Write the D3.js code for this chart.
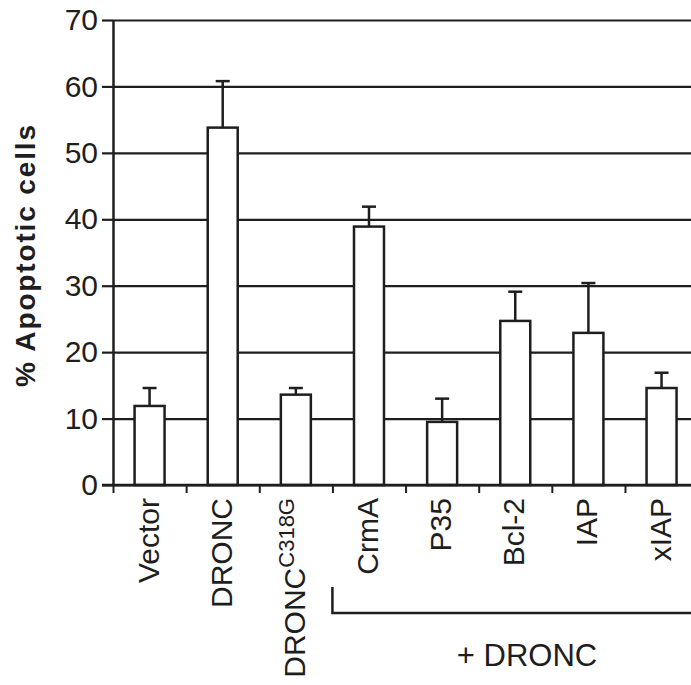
<!DOCTYPE html>
<html>
<head>
    <meta charset="utf-8">
    <title>% Apoptotic cells</title>
    <script src="https://cdn.jsdelivr.net/npm/d3@7/dist/d3.min.js"></script>
    <style>
        body { margin: 0; background: #fff; }
        text { font-family: "Liberation Sans", Arial, Helvetica, sans-serif; fill: #1e1e1e; }
    </style>
</head>
<body>
<script type="text/javascript">
    // data
    var categories = ["Vector", "DRONC", "DRONC_C318G", "CrmA", "P35", "Bcl-2", "IAP", "xIAP"];
    var values = [11.9, 53.8, 13.6, 38.9, 9.5, 24.7, 22.9, 14.6];
    var errors = [2.7, 7.0, 1.0, 3.0, 3.5, 4.4, 7.5, 2.3];
    var yTicks = [0, 10, 20, 30, 40, 50, 60, 70];

    var width = 691, height = 685,
        axisX = 113, yTop = 20, yBottom = 485,
        step = 73.14,
        ink = "#1e1e1e";

    var svg = d3.select("body").append("svg")
        .attr("width", width)
        .attr("height", height);

    var y = d3.scaleLinear().domain([0, 70]).range([yBottom, yTop]);

    var x = d3.scaleBand()
        .domain(categories)
        .range([axisX, axisX + step * categories.length])
        .paddingInner(0.59)
        .paddingOuter(0.295);

    // y axis with stubs, then gridlines across
    var yAxis = d3.axisLeft(y).tickValues(yTicks).tickSize(11).tickSizeOuter(0).tickPadding(4);
    var yg = svg.append("g")
        .attr("class", "y-axis")
        .attr("transform", "translate(" + axisX + ",0)")
        .call(yAxis);
    yg.select(".domain").attr("stroke", ink).attr("stroke-width", 2.5);
    yg.selectAll(".tick line").attr("stroke", ink).attr("stroke-width", 2.2);
    yg.selectAll(".tick text").attr("font-size", 30).attr("fill", ink).style("font-family", "'Liberation Sans', Arial, sans-serif");
    yg.selectAll("g.tick").append("line").classed("grid-line", true)
        .attr("x1", 0).attr("y1", 0)
        .attr("x2", width - axisX).attr("y2", 0)
        .attr("stroke", ink).attr("stroke-width", 2.2);

    // x axis ticks sit on the category boundaries
    var bounds = d3.scaleLinear().domain([0, categories.length]).range(x.range());
    var xAxis = d3.axisBottom(bounds).tickValues(d3.range(categories.length)).tickFormat("").tickSize(8).tickSizeOuter(0);
    var xg = svg.append("g")
        .attr("class", "x-axis")
        .attr("transform", "translate(0," + yBottom + ")")
        .call(xAxis);
    xg.select(".domain").remove();
    xg.selectAll(".tick line").attr("stroke", ink).attr("stroke-width", 2);

    // bars
    var bars = svg.append("g").selectAll("g.bar")
        .data(categories)
        .enter().append("g").attr("class", "bar");

    bars.append("line")
        .attr("x1", function(d) { return x(d) + x.bandwidth() / 2; })
        .attr("x2", function(d) { return x(d) + x.bandwidth() / 2; })
        .attr("y1", function(d, i) { return y(values[i]); })
        .attr("y2", function(d, i) { return y(values[i] + errors[i]); })
        .attr("stroke", ink).attr("stroke-width", 2.5);
    bars.append("line")
        .attr("x1", function(d) { return x(d) + x.bandwidth() / 2 - 7; })
        .attr("x2", function(d) { return x(d) + x.bandwidth() / 2 + 7; })
        .attr("y1", function(d, i) { return y(values[i] + errors[i]); })
        .attr("y2", function(d, i) { return y(values[i] + errors[i]); })
        .attr("stroke", ink).attr("stroke-width", 2.5);
    bars.append("rect")
        .attr("x", function(d) { return x(d); })
        .attr("width", x.bandwidth())
        .attr("y", function(d, i) { return y(values[i]); })
        .attr("height", function(d, i) { return yBottom - y(values[i]); })
        .attr("fill", "#fff")
        .attr("stroke", ink).attr("stroke-width", 2.5);

    // baseline drawn again over bar bottoms
    svg.append("line")
        .attr("x1", axisX - 11).attr("x2", width)
        .attr("y1", yBottom).attr("y2", yBottom)
        .attr("stroke", ink).attr("stroke-width", 2.5);

    // category labels, rotated
    var labels = svg.append("g").selectAll("text")
        .data(categories)
        .enter().append("text")
        .attr("transform", function(d) {
            return "translate(" + (x(d) + x.bandwidth() / 2 + 9) + "," + (yBottom + 13) + ") rotate(-90)";
        })
        .attr("text-anchor", "end")
        .attr("font-size", 30);
    labels.each(function(d) {
        var t = d3.select(this);
        var parts = d.split("_");
        t.append("tspan").text(parts[0]);
        if (parts[1]) {
            t.append("tspan").attr("font-size", 22).attr("dy", -11).text(parts[1]);
        }
    });

    // bracket for the + DRONC group
    var bx = bounds(3);
    svg.append("path")
        .attr("d", "M" + bx + ",587V613H" + width)
        .attr("fill", "none")
        .attr("stroke", ink).attr("stroke-width", 2.5);
    svg.append("text")
        .attr("x", 527).attr("y", 666)
        .attr("text-anchor", "middle")
        .attr("font-size", 31)
        .text("+ DRONC");

    // y title
    svg.append("text")
        .attr("transform", "translate(35," + 256 + ") rotate(-90)")
        .attr("text-anchor", "middle")
        .attr("font-size", 28)
        .attr("font-weight", "bold")
        .attr("textLength", 262)
        .attr("lengthAdjust", "spacing")
        .text("% Apoptotic cells");
</script>
</body>
</html>
